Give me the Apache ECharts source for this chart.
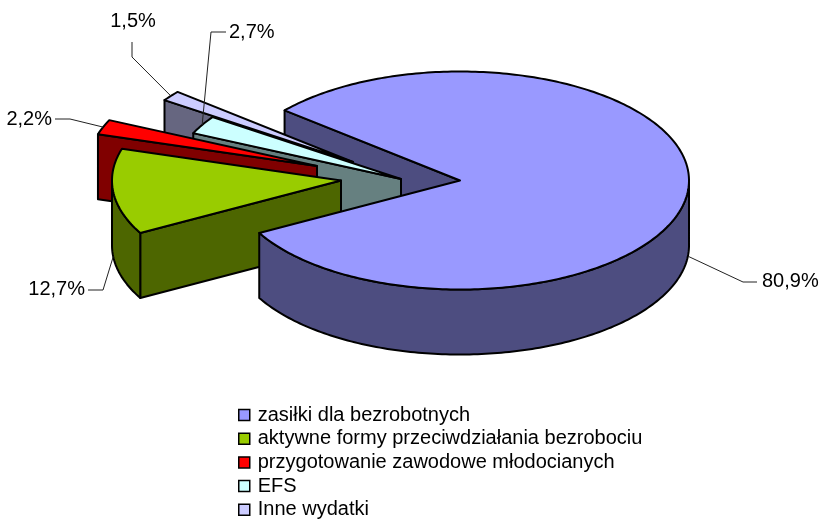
<!DOCTYPE html>
<html style="height: 100%">
<head>
    <meta charset="utf-8">
    <title>Wydatki</title>
</head>
<body style="height: 100%; margin: 0; background: #fff">
<div id="container" style="width: 820px; height: 520px"></div>
<script src="https://cdn.jsdelivr.net/npm/echarts@6/dist/echarts.min.js"></script>
<script type="text/javascript">
var categories = [
    'zasiłki dla bezrobotnych',
    'aktywne formy przeciwdziałania bezrobociu',
    'przygotowanie zawodowe młodocianych',
    'EFS',
    'Inne wydatki'
];
var values = [80.9, 12.7, 2.2, 2.7, 1.5];

var topColors = ['#9999ff', '#99cc00', '#ff0000', '#ccffff', '#ccccff'];
var sideColors = ['#4d4d80', '#4d6600', '#800000', '#668080', '#666680'];

// pie layout: centre of each (exploded) slice, ellipse radii, wall height
var centers = [[460, 180.5], [341, 180.5], [317, 166], [401, 179], [353, 162]];
var rx = 229, ry = 109, depth = 65;
var startAngle = -140;

// leader line elbow points + label text position
var labelLayout = [
    {line: [[743, 282], [757, 282]], text: [762, 281], align: 'left'},
    {line: [[103, 290], [88, 290]], text: [85, 289], align: 'right'},
    {line: [[70, 119], [55, 119]], text: [52, 119], align: 'right'},
    {line: [[211, 32], [226, 32]], text: [229, 32], align: 'left'},
    {line: [[132, 57], [132, 42]], text: [133, 21], align: 'center'}
];

var total = values.reduce(function (a, b) { return a + b; }, 0);
var ranges = [];
var acc = startAngle;
for (var k = 0; k < values.length; k++) {
    var span = values[k] / total * 360;
    ranges.push([acc, acc + span]);
    acc += span;
}

function pt(i, deg, dy) {
    var a = deg * Math.PI / 180;
    return [centers[i][0] + rx * Math.cos(a), centers[i][1] + ry * Math.sin(a) + (dy || 0)];
}

function arc(i, from, to, dy) {
    var pts = [];
    var n = Math.max(2, Math.ceil(Math.abs(to - from)));
    for (var s = 0; s <= n; s++) {
        pts.push(pt(i, from + (to - from) * s / n, dy));
    }
    return pts;
}

function poly(points, fill) {
    return {
        type: 'polygon',
        shape: {points: points},
        style: {fill: fill, stroke: '#000', lineWidth: 2, lineJoin: 'round'}
    };
}

function startWall(i) {
    var c = centers[i], p = pt(i, ranges[i][0]);
    return poly([c, p, [p[0], p[1] + depth], [c[0], c[1] + depth]], sideColors[i]);
}

function outerWall(i) {
    // only the part of the rim that faces the viewer
    var from = ranges[i][0], to = ranges[i][1];
    if (i === 0) { from = 0; }
    else if (to > 180) { to = 180; }
    if (from >= to) { return null; }
    return poly(arc(i, from, to, 0).concat(arc(i, to, from, depth)), sideColors[i]);
}

function topFace(i) {
    return poly([centers[i]].concat(arc(i, ranges[i][0], ranges[i][1], 0)), topColors[i]);
}

function leader(i, value) {
    var l = labelLayout[i];
    var mid = (ranges[i][0] + ranges[i][1]) / 2;
    var onFront = Math.sin(mid * Math.PI / 180) > 0;
    var start = pt(i, mid, onFront ? depth : 0);
    return [
        {
            type: 'polyline',
            shape: {points: [start].concat(l.line)},
            style: {fill: null, stroke: '#222', lineWidth: 1}
        },
        {
            type: 'text',
            style: {
                x: l.text[0], y: l.text[1],
                text: value.toFixed(1).replace('.', ',') + '%',
                fill: '#000',
                font: '20px "Liberation Sans"',
                align: l.align,
                verticalAlign: 'middle'
            }
        }
    ];
}

function makeSlice(i) {
    return {
        type: 'custom',
        name: categories[i],
        coordinateSystem: 'none',
        z: i === 0 ? 10 : 6 - i,
        silent: true,
        itemStyle: {color: topColors[i]},
        data: [values[i]],
        renderItem: function (params, api) {
            var children = [];
            if (i !== 0) { children.push(startWall(i)); }
            var outer = outerWall(i);
            if (outer) { children.push(outer); }
            children.push(topFace(i));
            return {type: 'group', children: children.concat(leader(i, api.value(0)))};
        }
    };
}

var series = [
    {
        // inner wall of the big slice, seen through the gap - sits behind the others
        type: 'custom',
        name: 'wall',
        coordinateSystem: 'none',
        z: 0,
        silent: true,
        data: [values[0]],
        renderItem: function () {
            return startWall(0);
        }
    }
];
for (var i = 0; i < categories.length; i++) {
    series.push(makeSlice(i));
}

var myChart = echarts.init(document.getElementById('container'));
myChart.setOption({
    animation: false,
    backgroundColor: '#fff',
    legend: {
        orient: 'vertical',
        left: 238,
        top: 405,
        padding: 0,
        data: categories.map(function (name) { return {name: name, icon: 'rect'}; }),
        selectedMode: false,
        itemWidth: 11,
        itemHeight: 11,
        itemGap: 3.7,
        itemStyle: {borderColor: '#000', borderWidth: 1.5},
        textStyle: {color: '#000', fontFamily: 'Liberation Sans', fontSize: 20, padding: [0, 0, 0, 3]}
    },
    series: series
});
</script>
</body>
</html>
